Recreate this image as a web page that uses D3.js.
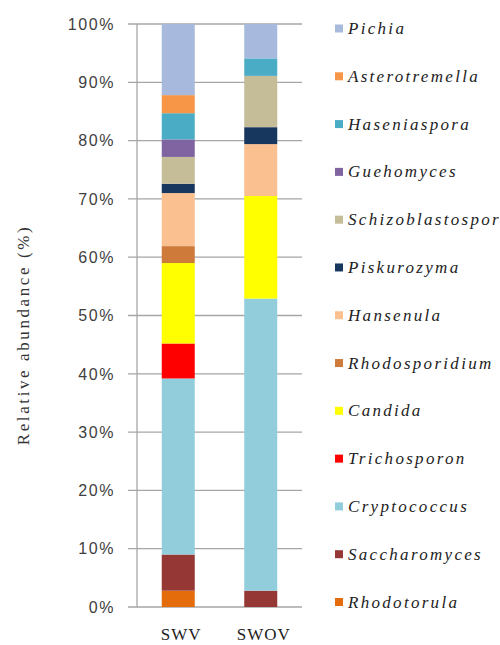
<!DOCTYPE html>
<html>
<head>
<meta charset="utf-8">
<script src="https://cdn.jsdelivr.net/npm/d3@7"></script>
<style>
  body { margin: 0; background: #fff; }
  svg { display: block; }
  .serif { font-family: 'Liberation Serif', 'Times New Roman', Times, 'DejaVu Serif', serif; }
</style>
</head>
<body>
<div id="chart"></div>
<script>
// samples on the x axis
var samples = ['SWV', 'SWOV'];

// genera, stacked from the bottom up
var genera = ['Rhodotorula', 'Saccharomyces', 'Cryptococcus', 'Trichosporon', 'Candida',
  'Rhodosporidium', 'Hansenula', 'Piskurozyma', 'Schizoblastosporion', 'Guehomyces',
  'Haseniaspora', 'Asterotremella', 'Pichia'];

// relative abundance (%) per genus, same order as genera
var swv  = [2.8, 6.2, 30.2, 6.0, 13.8, 2.9, 9.1, 1.6, 4.6, 3.0, 4.5, 3.1, 12.2];
var swov = [0.0, 2.8, 50.1, 0.0, 17.6, 0.0, 8.9, 2.9, 8.8, 0.0, 3.0, 0.0, 5.9];

var colors = ['#e46c0a', '#953735', '#92cddc', '#ff0000', '#ffff00',
  '#cd7a3a', '#fac090', '#17375e', '#c4bd97', '#8064a2',
  '#4bacc6', '#f79646', '#a7b9dc'];

var yTicks = [0, 10, 20, 30, 40, 50, 60, 70, 80, 90, 100];

var width = 500, height = 645;
var margin = {top: 24, left: 137, right: 302, bottom: 607};

var svg = d3.select('#chart').append('svg')
  .attr('width', width)
  .attr('height', height);

// build rows for the stack
var rows = samples.map(function(s, i) {
  var r = {sample: s};
  genera.forEach(function(g, j) { r[g] = (i === 0 ? swv : swov)[j]; });
  return r;
});

var series = d3.stack().keys(genera)(rows);

var x = d3.scaleBand().domain(samples)
  .range([margin.left, margin.right])
  .paddingInner(0.6).paddingOuter(0.3);

var y = d3.scaleLinear().domain([0, 100]).range([margin.bottom, margin.top]);

var color = d3.scaleOrdinal().domain(genera).range(colors);

// gridlines + ticks
svg.append('g')
  .selectAll('line')
  .data(yTicks)
  .join('line')
    .attr('x1', margin.left - 9)
    .attr('x2', margin.right)
    .attr('y1', d => y(d))
    .attr('y2', d => y(d))
    .attr('stroke', '#a6a6a6')
    .attr('stroke-width', 1.3);

// y axis line
svg.append('line')
  .attr('x1', margin.left).attr('x2', margin.left)
  .attr('y1', y(100)).attr('y2', y(0))
  .attr('stroke', '#a6a6a6')
  .attr('stroke-width', 1.3);

// tick labels
svg.append('g')
  .selectAll('text')
  .data(yTicks)
  .join('text')
    .attr('x', 115)
    .attr('y', d => y(d))
    .attr('dy', '0.36em')
    .attr('text-anchor', 'end')
    .style('font-family', '"Liberation Sans", sans-serif')
    .style('font-size', '16px')
    .style('letter-spacing', '1.6px')
    .style('fill', '#404040')
    .text(d => d + '%');

// bars
svg.append('g')
  .selectAll('g')
  .data(series)
  .join('g')
    .attr('fill', d => color(d.key))
  .selectAll('rect')
  .data(d => d)
  .join('rect')
    .attr('x', d => x(d.data.sample))
    .attr('width', x.bandwidth())
    .attr('y', d => y(d[1]))
    .attr('height', d => y(d[0]) - y(d[1]));

// x labels
svg.append('g')
  .selectAll('text')
  .data(samples)
  .join('text')
    .attr('class', 'serif')
    .attr('x', d => x(d) + x.bandwidth() / 2 + 3)
    .attr('y', 640)
    .attr('text-anchor', 'middle')
    .style('font-size', '17px')
    .style('letter-spacing', '1px')
    .style('fill', '#222')
    .text(d => d);

// y title
svg.append('text')
  .attr('class', 'serif')
  .attr('transform', 'translate(29,335) rotate(-90)')
  .attr('text-anchor', 'middle')
  .style('font-size', '17px')
  .style('letter-spacing', '2.6px')
  .style('fill', '#333')
  .text('Relative abundance (%)');

// legend, top item is the top of the stack
var legendItems = genera.slice().reverse();
var ly = d3.scaleLinear().domain([0, legendItems.length - 1]).range([28.5, 602]);

var legend = svg.append('g')
  .selectAll('g')
  .data(legendItems)
  .join('g')
    .attr('transform', (d, i) => 'translate(335,' + ly(i) + ')');

legend.append('rect')
  .attr('x', 0).attr('y', -4)
  .attr('width', 8).attr('height', 8)
  .attr('fill', d => color(d));

legend.append('text')
  .attr('class', 'serif')
  .attr('x', 13)
  .attr('y', 5.5)
  .style('font-style', 'italic')
  .style('font-size', '17px')
  .style('letter-spacing', '2.3px')
  .style('fill', '#222')
  .text(d => d);
</script>
</body>
</html>
